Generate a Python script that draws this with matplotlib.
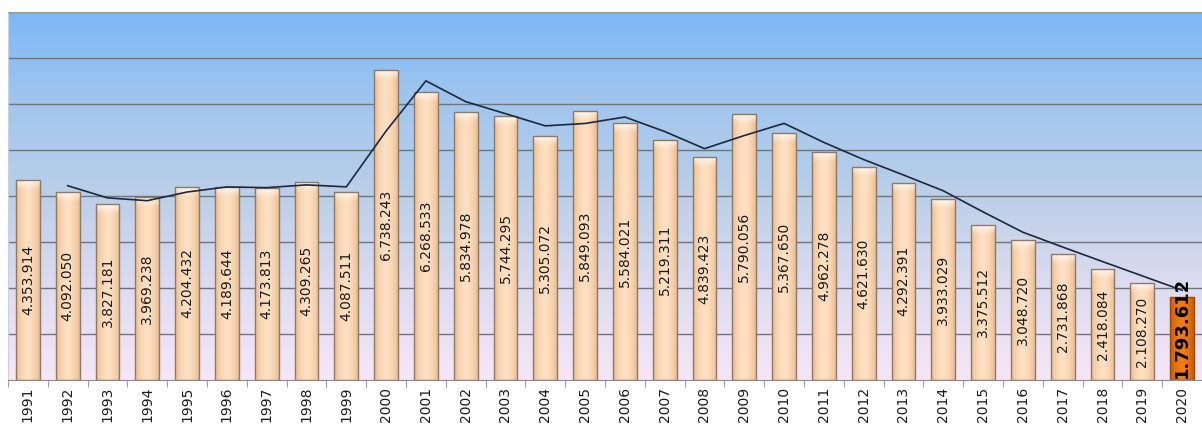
#!/usr/bin/env python3
"""Yearly totals 1991-2020 as shaded columns with a two-year moving average."""

import matplotlib

matplotlib.use("Agg")
import matplotlib.pyplot as plt
import numpy as np
import pandas as pd
from matplotlib.colors import LinearSegmentedColormap, to_rgb

years = list(range(1991, 2021))
values = [
    4353914, 4092050, 3827181, 3969238, 4204432, 4189644, 4173813, 4309265,
    4087511, 6738243, 6268533, 5834978, 5744295, 5305072, 5849093, 5584021,
    5219311, 4839423, 5790056, 5367650, 4962278, 4621630, 4292391, 3933029,
    3375512, 3048720, 2731868, 2418084, 2108270, 1793612,
]


def fmt(v):
    return f"{v:,}".replace(",", ".")


def shade(c0, c1, n=64):
    # darker edges, lighter middle: a simple cylinder look
    t = np.abs(np.linspace(-1, 1, n)) ** 1.8
    a, b = np.array(to_rgb(c0)), np.array(to_rgb(c1))
    return (b[None, :] * (1 - t[:, None]) + a[None, :] * t[:, None])[None, :, :]


df = pd.DataFrame({"year": years, "value": values})
df["trend"] = df["value"].rolling(2).mean()

fig = plt.figure(figsize=(12.02, 4.24), dpi=100)
ax = fig.add_axes([8 / 1202, 1 - 380 / 424, 1194 / 1202, 368 / 424])

ymax = 8_000_000
ax.set_xlim(-0.5, len(years) - 0.5)
ax.set_ylim(0, ymax)

# plot area background
bg = LinearSegmentedColormap.from_list(
    "bg", ["#f6e6f6", "#dedcf0", "#bccfe8", "#a2c6ee", "#7cb8f6"]
)
ax.imshow(np.linspace(0, 1, 256)[:, None], cmap=bg, origin="lower",
          extent=[0, 1, 0, 1], transform=ax.transAxes, aspect="auto", zorder=0)

for g in range(1, 9):
    ax.axhline(g * 1_000_000, color="#70757c", lw=1.0, zorder=1)

x = np.arange(len(years))
last = len(years) - 1
colors = ["#f8cca0"] * last + ["#e8700c"]
edges = ["#8c7a68"] * last + ["#9a4a08"]
bars = ax.bar(x, df["value"], width=0.6, color=colors, edgecolor=edges,
              linewidth=1.0, zorder=2)

hl = 0.03 * ymax
for i, b in enumerate(bars):
    x0, w, h = b.get_x(), b.get_width(), b.get_height()
    if i == last:
        img = shade("#c85a04", "#f27c12")
    else:
        img = shade("#ecbc90", "#fde0c2")
    im = ax.imshow(img, extent=[x0, x0 + w, 0, h], aspect="auto", zorder=2.1)
    im.set_clip_path(b)
    if i != last:
        cap = np.ones((32, 1, 4))
        cap[:, 0, 3] = np.linspace(0, 0.9, 32) ** 1.3
        im2 = ax.imshow(cap, extent=[x0, x0 + w, h - hl, h], origin="lower",
                        aspect="auto", zorder=2.2)
        im2.set_clip_path(b)
    b.set_facecolor("none")
    b.set_zorder(2.3)

ax.plot(x, df["trend"], color="#1c2840", lw=1.2, zorder=3)

for i, v in enumerate(values):
    if i == last:
        ax.text(i, v * 0.64, fmt(v), rotation=90, ha="center",
                va="center", fontsize=13, fontweight="bold", color="black",
                zorder=4)
    else:
        ax.text(i, v / 2, fmt(v), rotation=90, ha="center", va="center",
                fontsize=10, color="#1a1a1a", zorder=4)

ax.set_yticks([])
ax.set_xticks(x)
ax.set_xticklabels([str(y) for y in years], rotation=90, fontsize=10,
                   color="#1a1a1a")
ax.tick_params(axis="x", length=0, pad=5)
ax.set_xticks(np.arange(-0.5, len(years)), minor=True)
ax.tick_params(axis="x", which="minor", length=5, color="#8a8a8a")

ax.spines["right"].set_visible(False)
ax.spines["top"].set_color("#9a9a9a")
ax.spines["left"].set_color("#c8d0dc")
ax.spines["bottom"].set_color("#8a8a8a")

fig.savefig("out.png", dpi=100)
